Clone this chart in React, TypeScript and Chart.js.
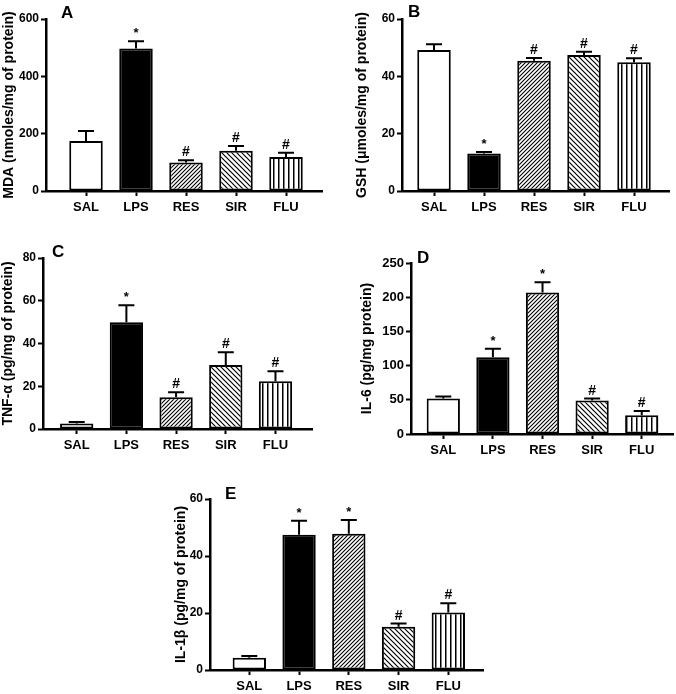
import React, { useEffect, useRef } from 'react';
import { Chart, registerables } from 'chart.js';

Chart.register(...registerables);

const categories = ['SAL', 'LPS', 'RES', 'SIR', 'FLU'];

const mdaMeans = [174, 497, 99, 140, 119];
const mdaErrs = [35, 25, 8, 17, 14];
const mdaMarks = ['', '*', '#', '#', '#'];

const gshMeans = [49.2, 13.1, 45.4, 47.4, 44.9];
const gshErrs = [2.0, 0.5, 1.0, 1.2, 1.4];
const gshMarks = ['', '*', '#', '#', '#'];

const tnfMeans = [2.6, 49.9, 14.8, 29.9, 22.3];
const tnfErrs = [0.7, 8.0, 2.4, 6.0, 4.7];
const tnfMarks = ['', '*', '#', '#', '#'];

const il6Means = [51.8, 112.3, 207, 48.8, 27.3];
const il6Errs = [2.9, 12.2, 15, 3.0, 6.4];
const il6Marks = ['', '*', '*', '#', '#'];

const il1bMeans = [4.3, 47.5, 47.8, 15.2, 20.2];
const il1bErrs = [0.6, 4.9, 4.8, 1.1, 3.2];
const il1bMarks = ['', '*', '*', '#', '#'];

const fillKinds = ['white', 'black', 'fwd', 'back', 'vert'];

const FONT = "'Liberation Sans', Arial, sans-serif";

type Panel = {
  letter: string;
  title: string;
  means: number[];
  errs: number[];
  marks: string[];
  yMax: number;
  yStep: number;
  left: number;
  axisX: number;
  top: number;
  zero: number;
  right: number;
  xMin: number;
  xMax: number;
  letterX: number;
  letterY: number;
  tickSize: number;
};

const panels: Panel[] = [
  { letter: 'A', title: 'MDA (nmoles/mg of protein)', means: mdaMeans, errs: mdaErrs, marks: mdaMarks, yMax: 600, yStep: 200,
    left: 1, axisX: 46, top: 19, zero: 191, right: 322, xMin: -0.8, xMax: 4.72, letterX: 61, letterY: 17.5, tickSize: 12 },
  { letter: 'B', title: 'GSH (\u03bcmoles/mg of protein)', means: gshMeans, errs: gshErrs, marks: gshMarks, yMax: 60, yStep: 20,
    left: 354, axisX: 402, top: 19, zero: 191, right: 669, xMin: -0.64, xMax: 4.7, letterX: 408, letterY: 16.5, tickSize: 12 },
  { letter: 'C', title: 'TNF-\u03b1 (pg/mg of protein)', means: tnfMeans, errs: tnfErrs, marks: tnfMarks, yMax: 80, yStep: 20,
    left: 0, axisX: 43, top: 258, zero: 429, right: 312, xMin: -0.678, xMax: 4.735, letterX: 52, letterY: 256.7, tickSize: 12 },
  { letter: 'D', title: 'IL-6 (pg/mg protein)', means: il6Means, errs: il6Errs, marks: il6Marks, yMax: 250, yStep: 50,
    left: 359, axisX: 411, top: 263, zero: 434, right: 673, xMin: -0.651, xMax: 4.63, letterX: 417, letterY: 263, tickSize: 13 },
  { letter: 'E', title: 'IL-1\u03b2 (pg/mg of protein)', means: il1bMeans, errs: il1bErrs, marks: il1bMarks, yMax: 60, yStep: 20,
    left: 173, axisX: 210, top: 499, zero: 670, right: 483, xMin: -0.79, xMax: 4.697, letterX: 225, letterY: 499, tickSize: 12 },
];

function makeFill(kind: string): any {
  if (kind === 'white') return '#ffffff';
  if (kind === 'black') return '#000000';
  const c = document.createElement('canvas');
  const ctx = c.getContext('2d')!;
  if (kind === 'fwd') {
    const s = 4;
    c.width = s; c.height = s;
    ctx.fillStyle = '#fff'; ctx.fillRect(0, 0, s, s);
    ctx.strokeStyle = '#000'; ctx.lineWidth = 1.1;
    ctx.beginPath();
    ctx.moveTo(-1, s + 1); ctx.lineTo(s + 1, -1);
    ctx.moveTo(-1, 1); ctx.lineTo(1, -1);
    ctx.moveTo(s - 1, s + 1); ctx.lineTo(s + 1, s - 1);
    ctx.stroke();
  } else if (kind === 'back') {
    const s = 5;
    c.width = s; c.height = s;
    ctx.fillStyle = '#fff'; ctx.fillRect(0, 0, s, s);
    ctx.strokeStyle = '#000'; ctx.lineWidth = 1.2;
    ctx.beginPath();
    ctx.moveTo(-1, -1); ctx.lineTo(s + 1, s + 1);
    ctx.moveTo(s - 1, -1); ctx.lineTo(s + 1, 1);
    ctx.moveTo(-1, s - 1); ctx.lineTo(1, s + 1);
    ctx.stroke();
  } else {
    const w = 5;
    c.width = w; c.height = 4;
    ctx.fillStyle = '#fff'; ctx.fillRect(0, 0, w, 4);
    ctx.fillStyle = '#000'; ctx.fillRect(2, 0, 1.5, 4);
  }
  return ctx.createPattern(c, 'repeat');
}

function PanelChart({ p }: { p: Panel }) {
  const ref = useRef<HTMLCanvasElement>(null);
  const padTop = Math.min(17, p.top);
  const top = p.top - padTop;
  const width = p.right + 3 - p.left;
  const height = p.zero + 32 - top;

  useEffect(() => {
    const canvas = ref.current!;
    const bg = fillKinds.map(makeFill);
    const extras = {
      id: 'extras' + p.letter,
      afterDatasetsDraw(chart: any) {
        const ctx = chart.ctx;
        const meta = chart.getDatasetMeta(0);
        const ys = chart.scales.y;
        ctx.save();
        meta.data.forEach((el: any, i: number) => {
          const x = el.x;
          const y0 = el.y;
          const y1 = ys.getPixelForValue(p.means[i] + p.errs[i]);
          ctx.strokeStyle = '#000';
          ctx.lineWidth = 2;
          ctx.beginPath();
          ctx.moveTo(x, y0);
          ctx.lineTo(x, y1);
          ctx.moveTo(x - 8, y1);
          ctx.lineTo(x + 8, y1);
          ctx.stroke();
          const m = p.marks[i];
          if (m) {
            ctx.fillStyle = '#000';
            ctx.textAlign = 'center';
            ctx.textBaseline = 'alphabetic';
            ctx.font = m === '*' ? `bold 13px ${FONT}` : `bold 14px ${FONT}`;
            ctx.fillText(m, x, y1 - 4);
          }
        });
        ctx.fillStyle = '#000';
        ctx.font = `bold 17px ${FONT}`;
        ctx.textAlign = 'left';
        ctx.textBaseline = 'alphabetic';
        ctx.fillText(p.letter, p.letterX - p.left, p.letterY - top);
        ctx.restore();
      },
    };

    const chart = new Chart(canvas, {
      type: 'bar',
      data: {
        datasets: [
          {
            data: categories.map((_, i) => ({ x: i, y: p.means[i] })),
            backgroundColor: bg,
            borderColor: '#000',
            borderWidth: 2,
            borderSkipped: false,
            categoryPercentage: 1,
            barPercentage: 0.67,
          } as any,
        ],
      },
      options: {
        responsive: false,
        animation: false,
        devicePixelRatio: 1,
        layout: { padding: { top: padTop, right: 3, bottom: 2, left: 0 } },
        plugins: { legend: { display: false }, tooltip: { enabled: false } },
        scales: {
          x: {
            type: 'linear',
            offset: false,
            min: p.xMin,
            max: p.xMax,
            afterBuildTicks: (s: any) => {
              s.ticks = categories.map((_, i) => ({ value: i }));
            },
            afterFit: (s: any) => {
              s.height = 30;
            },
            ticks: {
              callback: (v: any) => categories[v] ?? '',
              color: '#000',
              font: { family: FONT, weight: 'bold', size: 13 },
              padding: 4,
              maxRotation: 0,
              autoSkip: false,
            },
            grid: { offset: false, drawOnChartArea: false, drawTicks: true, tickLength: 5, tickWidth: 2, tickColor: '#000' },
            border: { display: true, color: '#000', width: 2.5, z: 1 },
          },
          y: {
            min: 0,
            max: p.yMax,
            ticks: {
              stepSize: p.yStep,
              color: '#000',
              font: { family: FONT, weight: 'bold', size: p.tickSize },
              padding: 2,
            },
            grid: { drawOnChartArea: false, drawTicks: true, tickLength: 5, tickWidth: 2, tickColor: '#000' },
            border: { display: true, color: '#000', width: 2.5, z: 1 },
            title: {
              display: true,
              text: p.title,
              color: '#000',
              font: { family: FONT, weight: 'bold', size: 14 },
              padding: { top: 0, bottom: 0 },
            },
            afterFit: (s: any) => {
              s.width = p.axisX - p.left;
            },
          },
        },
      } as any,
      plugins: [extras],
    });
    return () => chart.destroy();
  }, []);

  return (
    <canvas
      ref={ref}
      width={width}
      height={height}
      style={{ position: 'absolute', left: p.left, top, width, height }}
    />
  );
}

export default function App() {
  return (
    <div style={{ position: 'absolute', left: 0, top: 0, width: 676, height: 694, background: '#fff' }}>
      {panels.map((p) => (
        <PanelChart key={p.letter} p={p} />
      ))}
    </div>
  );
}
